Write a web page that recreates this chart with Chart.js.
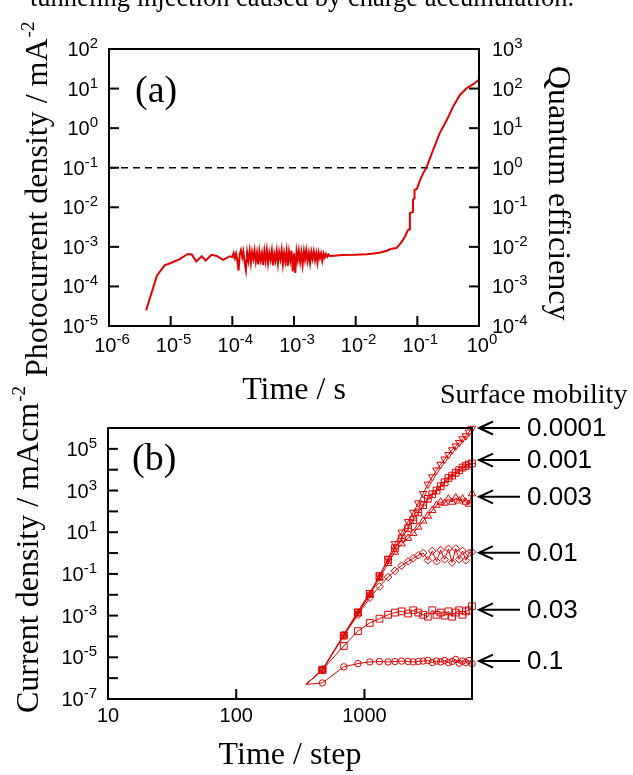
<!DOCTYPE html>
<html>
<head>
<meta charset="utf-8">
<script src="https://cdn.jsdelivr.net/npm/chart.js@4.4.0/dist/chart.umd.min.js"></script>
<style>
  body { margin: 0; background: #fff; width: 633px; height: 775px; overflow: hidden; position: relative; }
  canvas { position: absolute; left: 0; }
  #chartA { top: 0; }
  #chartB { top: 370px; }
</style>
</head>
<body>
<canvas id="chartA" width="633" height="410"></canvas>
<canvas id="chartB" width="633" height="405"></canvas>
<script>
// ---------- panel (a): photocurrent transient ----------
const timeA = [
  4.0e-6, 6.0e-6, 8.0e-6, 1.0e-5, 1.4e-5, 1.9e-5, 2.2e-5, 2.6e-5, 3.2e-5, 3.7e-5, 4.6e-5, 5.6e-5, 7.1e-5, 9.1e-5,
  1.00e-4, 1.05e-4, 1.10e-4, 1.15e-4, 1.20e-4, 1.26e-4, 1.32e-4, 1.38e-4, 1.45e-4, 1.51e-4,
  1.58e-4, 1.66e-4, 1.74e-4, 1.82e-4, 1.91e-4, 2.00e-4, 2.09e-4, 2.19e-4, 2.29e-4, 2.40e-4,
  2.51e-4, 2.63e-4, 2.75e-4, 2.88e-4, 3.02e-4, 3.16e-4, 3.31e-4, 3.47e-4, 3.63e-4, 3.80e-4,
  3.98e-4, 4.17e-4, 4.37e-4, 4.57e-4, 4.79e-4, 5.01e-4, 5.25e-4, 5.50e-4, 5.75e-4, 6.03e-4,
  6.31e-4, 6.61e-4, 6.92e-4, 7.24e-4, 7.59e-4, 7.94e-4, 8.32e-4, 8.71e-4, 9.12e-4, 9.55e-4,
  1.00e-3, 1.05e-3, 1.10e-3, 1.15e-3, 1.20e-3, 1.26e-3, 1.32e-3, 1.38e-3, 1.45e-3, 1.51e-3,
  1.58e-3, 1.66e-3, 1.74e-3, 1.82e-3, 1.91e-3, 2.00e-3, 2.09e-3, 2.19e-3, 2.29e-3, 2.40e-3,
  2.51e-3, 2.63e-3, 2.75e-3, 2.88e-3, 3.02e-3, 3.16e-3, 3.31e-3, 3.47e-3, 3.63e-3, 3.80e-3,
  4.5e-3, 6.0e-3, 1.0e-2, 1.5e-2, 2.0e-2, 2.5e-2, 3.2e-2, 3.8e-2, 4.6e-2, 5.5e-2, 6.3e-2, 7.0e-2,
  0.0748, 0.0757, 0.0848, 0.0852, 0.0895, 0.0900, 0.098, 0.110, 0.124, 0.141,
  0.18, 0.23, 0.30, 0.38, 0.49, 0.63, 0.81, 1.0
];
const currentA = [
  2.5e-5, 1.9e-4, 3.4e-4, 3.9e-4, 4.9e-4, 6.6e-4, 6.4e-4, 4.3e-4, 5.8e-4, 4.5e-4, 6.3e-4, 5.9e-4, 4.7e-4, 5.8e-4,
  5.5e-4, 7.0e-4, 5.2e-4, 6.8e-4, 4.8e-4, 2.5e-4, 6.5e-4, 8.3e-4, 5.5e-4, 7.6e-4,
  4.2e-4, 2.6e-4, 7.2e-4, 4.5e-4, 7.9e-4, 4.0e-4, 7.4e-4, 5.0e-4, 8.1e-4, 4.3e-4,
  7.0e-4, 3.6e-4, 7.7e-4, 4.6e-4, 6.9e-4, 3.5e-4, 7.8e-4, 4.4e-4, 8.2e-4, 3.9e-4,
  7.1e-4, 4.8e-4, 8.0e-4, 3.4e-4, 6.6e-4, 4.5e-4, 7.9e-4, 3.8e-4, 7.3e-4, 4.9e-4,
  8.3e-4, 3.7e-4, 7.0e-4, 4.3e-4, 7.8e-4, 3.3e-4, 7.5e-4, 4.6e-4, 8.0e-4, 2.4e-4,
  6.9e-4, 2.2e-4, 7.6e-4, 4.7e-4, 7.9e-4, 4.2e-4, 7.2e-4, 3.6e-4, 7.7e-4, 4.8e-4,
  8.1e-4, 4.4e-4, 7.0e-4, 3.9e-4, 7.4e-4, 5.0e-4, 7.6e-4, 4.6e-4, 6.9e-4, 4.0e-4,
  7.2e-4, 5.3e-4, 6.9e-4, 4.4e-4, 6.8e-4, 5.4e-4, 6.6e-4, 5.6e-4, 6.4e-4, 5.9e-4,
  6.0e-4, 6.2e-4, 6.3e-4, 6.5e-4, 6.8e-4, 7.2e-4, 8.0e-4, 9.0e-4, 9.3e-4, 1.3e-3, 1.8e-3, 2.6e-3,
  2.8e-3, 7.1e-3, 7.6e-3, 1.55e-2, 1.7e-2, 2.75e-2, 2.9e-2, 4.7e-2, 7.2e-2, 0.102,
  0.28, 0.74, 1.6, 3.5, 6.9, 10.2, 12.9, 16.6
];
const limitTime = [1e-6, 1];
const limitCurrent = [0.1, 0.1];

const tickTimeA = [1e-6, 1e-5, 1e-4, 1e-3, 1e-2, 1e-1, 1];
const tickTimeExpA = ['-6', '-5', '-4', '-3', '-2', '-1', '0'];
const tickCurA = [1e2, 1e1, 1e0, 1e-1, 1e-2, 1e-3, 1e-4, 1e-5];
const tickCurExpA = ['2', '1', '0', '-1', '-2', '-3', '-4', '-5'];
const tickQeA = [1e3, 1e2, 1e1, 1e0, 1e-1, 1e-2, 1e-3, 1e-4];
const tickQeExpA = ['3', '2', '1', '0', '-1', '-2', '-3', '-4'];

// ---------- panel (b): simulated current vs surface mobility ----------
const stepB = [350, 470, 690, 890, 1100, 1310, 1530, 1730, 1950, 2190, 2400, 2630, 2870,
  3120, 3380, 3650, 3930, 4220, 4520, 4830, 5150, 5480, 5820, 6170, 6530, 6900];
const curMu00001 = [5.0e-7, 2.5e-6, 1.26e-4, 1.6e-3, 0.0126, 0.079, 0.56, 2.8, 10, 32, 89, 250, 710,
  2000, 4500, 9500, 1.8e4, 3.2e4, 5.2e4, 8.9e4, 1.35e5, 2.0e5, 3.0e5, 4.2e5, 6.3e5, 9.5e5];
const curMu0001 = [5.0e-7, 2.5e-6, 1.1e-4, 1.4e-3, 0.011, 0.079, 0.47, 1.7, 5.1, 15.5, 38, 89, 200,
  400, 660, 1000, 1600, 2500, 4000, 5200, 7100, 9500, 1.26e4, 1.5e4, 1.8e4, 2.0e4];
const curMu0003 = [5.0e-7, 2.5e-6, 1.1e-4, 1.26e-3, 0.010, 0.063, 0.32, 1.12, 2.8, 5.2, 8.9, 17.8, 35,
  60, 112, 200, 280, 250, 400, 280, 450, 320, 400, 280, 224, 710];
const curMu001 = [5.0e-7, 2.5e-6, 1.1e-4, 1.1e-3, 7.1e-3, 0.025, 0.071, 0.14, 0.25, 0.40, 0.56, 0.79, 1.0,
  0.45, 1.26, 0.40, 1.4, 0.50, 1.6, 0.35, 1.66, 0.50, 1.26, 0.45, 1.0, 1.12];
const curMu003 = [5.0e-7, 2.5e-6, 3.5e-5, 1.8e-4, 4.5e-4, 7.1e-4, 1.1e-3, 1.4e-3, 1.6e-3, 1.26e-3, 1.8e-3, 1.4e-3, 1.1e-3,
  8.9e-4, 1.8e-3, 1.1e-3, 1.4e-3, 1.0e-3, 1.6e-3, 8.9e-4, 1.4e-3, 1.8e-3, 1.1e-3, 1.6e-3, 1.8e-3, 2.8e-3];
const curMu01 = [5.0e-7, 5.9e-7, 3.5e-6, 5.0e-6, 6.0e-6, 6.3e-6, 6.0e-6, 6.3e-6, 6.6e-6, 6.3e-6, 6.0e-6, 6.3e-6, 6.6e-6,
  7.1e-6, 5.6e-6, 6.6e-6, 6.0e-6, 7.1e-6, 5.6e-6, 6.3e-6, 7.9e-6, 5.2e-6, 6.6e-6, 5.6e-6, 7.1e-6, 5.0e-6];

const mobilityLabels = ['0.0001', '0.001', '0.003', '0.01', '0.03', '0.1'];
const arrowLevels = [1.0e6, 2.9e4, 5.0e2, 1.05, 1.9e-3, 6.6e-6];

const tickStepB = [10, 100, 1000];
const tickStepLabelB = ['10', '100', '1000'];
const tickCurB = [1e5, 1e4, 1e3, 1e2, 1e1, 1e0, 1e-1, 1e-2, 1e-3, 1e-4, 1e-5, 1e-6, 1e-7];
const tickCurExpB = ['5', '', '3', '', '1', '', '-1', '', '-3', '', '-5', '', '-7'];

// ---------- drawing helpers ----------
const RED = '#e00000';
const SANS = '"Liberation Sans", Arial, sans-serif';
const SERIF = '"Liberation Serif", "Times New Roman", serif';

// "10" with a superscript exponent, y is the vertical middle of "10"
function drawPow(ctx, exp, x, y, align) {
  const size = 20, sup = 15;
  ctx.textAlign = 'left';
  ctx.textBaseline = 'alphabetic';
  ctx.font = size + 'px ' + SANS;
  const wb = ctx.measureText('10').width;
  ctx.font = sup + 'px ' + SANS;
  const ws = ctx.measureText(exp).width;
  const total = wb + ws;
  let x0 = x;
  if (align === 'right') x0 = x - total;
  if (align === 'center') x0 = x - total / 2;
  const by = y + 7;
  ctx.font = size + 'px ' + SANS;
  ctx.fillText('10', x0, by);
  ctx.font = sup + 'px ' + SANS;
  ctx.fillText(exp, x0 + wb, by - 8);
}

// rotated axis title, optional superscript at the end
function drawTitle(ctx, text, sup, x, y, angle) {
  ctx.save();
  ctx.translate(x, y);
  ctx.rotate(angle);
  ctx.textAlign = 'left';
  ctx.textBaseline = 'alphabetic';
  ctx.font = '32px ' + SERIF;
  ctx.fillText(text, 0, 0);
  if (sup) {
    const w = ctx.measureText(text).width;
    ctx.font = '19px ' + SERIF;
    ctx.fillText(sup, w + 1, -13);
  }
  ctx.restore();
}

function tickY(ctx, yPix, xFrom, len) {
  ctx.beginPath();
  ctx.moveTo(xFrom, yPix);
  ctx.lineTo(xFrom + len, yPix);
  ctx.stroke();
}

function tickX(ctx, xPix, yFrom, len) {
  ctx.beginPath();
  ctx.moveTo(xPix, yFrom);
  ctx.lineTo(xPix, yFrom + len);
  ctx.stroke();
}

const panelA = {
  id: 'panelA',
  afterDraw(chart) {
    const ctx = chart.ctx;
    const { left, right, top, bottom } = chart.chartArea;
    const sx = chart.scales.x, sy = chart.scales.y, sy2 = chart.scales.y2;
    ctx.save();
    ctx.strokeStyle = '#000';
    ctx.fillStyle = '#000';
    ctx.lineWidth = 2;
    ctx.strokeRect(left, top, right - left, bottom - top);

    // ticks + labels
    tickCurA.forEach((v, i) => {
      const y = sy.getPixelForValue(v);
      if (i > 0 && i < tickCurA.length - 1) {
        tickY(ctx, y, left, 10);
      }
      drawPow(ctx, tickCurExpA[i], left - 11, y, 'right');
    });
    tickQeA.forEach((v, i) => {
      const y = sy2.getPixelForValue(v);
      if (i > 0 && i < tickQeA.length - 1) {
        tickY(ctx, y, right, -10);
      }
      drawPow(ctx, tickQeExpA[i], right + 13, y, 'left');
    });
    tickTimeA.forEach((v, i) => {
      const x = sx.getPixelForValue(v);
      if (i > 0 && i < tickTimeA.length - 1) {
        tickX(ctx, x, bottom, -10);
      }
      drawPow(ctx, tickTimeExpA[i], x + 3, bottom + 19, 'center');
    });

    // titles
    ctx.textAlign = 'center';
    ctx.textBaseline = 'alphabetic';
    ctx.font = '32px ' + SERIF;
    ctx.fillText('Time / s', (left + right) / 2, 399);
    drawTitle(ctx, 'Photocurrent density / mA', '-2', 47, 377, -Math.PI / 2);
    drawTitle(ctx, 'Quantum efficiency', null, 549, 66, Math.PI / 2);

    ctx.textAlign = 'left';
    ctx.font = '38px ' + SERIF;
    ctx.fillText('(a)', 135, 102);

    // caption line cut off at the top of the page
    ctx.font = '26.5px ' + SERIF;
    ctx.fillText('tunneling injection caused by charge accumulation.', 30, 6);
    ctx.restore();
  }
};

const panelB = {
  id: 'panelB',
  afterDraw(chart) {
    const ctx = chart.ctx;
    const { left, right, top, bottom } = chart.chartArea;
    const sx = chart.scales.x, sy = chart.scales.y;
    ctx.save();
    ctx.strokeStyle = '#000';
    ctx.fillStyle = '#000';
    ctx.lineWidth = 2;
    ctx.strokeRect(left, top, right - left, bottom - top);

    tickCurB.forEach((v, i) => {
      const y = sy.getPixelForValue(v);
      if (v > 1e-7) tickY(ctx, y, left, 10);
      if (tickCurExpB[i]) drawPow(ctx, tickCurExpB[i], left - 11, y, 'right');
    });
    ctx.textAlign = 'center';
    ctx.textBaseline = 'middle';
    ctx.font = '20px ' + SANS;
    tickStepB.forEach((v, i) => {
      const x = sx.getPixelForValue(v);
      if (v > 10) tickX(ctx, x, bottom, -10);
      ctx.fillText(tickStepLabelB[i], x, bottom + 17);
    });

    ctx.textBaseline = 'alphabetic';
    ctx.font = '32px ' + SERIF;
    ctx.fillText('Time / step', (left + right) / 2, 394);
    drawTitle(ctx, 'Current density / mAcm', '-2', 38, 343, -Math.PI / 2);

    ctx.textAlign = 'left';
    ctx.font = '38px ' + SERIF;
    ctx.fillText('(b)', 132, 100);

    ctx.font = '28px ' + SERIF;
    ctx.fillText('Surface mobility', 440, 33);

    // arrows pointing at each curve with its mobility
    ctx.lineWidth = 2;
    ctx.font = '26px ' + SANS;
    ctx.textBaseline = 'middle';
    arrowLevels.forEach((v, i) => {
      const y = sy.getPixelForValue(v);
      const tip = right + 7;
      ctx.beginPath();
      ctx.moveTo(tip + 41, y);
      ctx.lineTo(tip, y);
      ctx.moveTo(tip + 14, y - 6.5);
      ctx.lineTo(tip, y);
      ctx.lineTo(tip + 14, y + 6.5);
      ctx.stroke();
      ctx.fillText(mobilityLabels[i], right + 55, y + 1);
    });
    ctx.restore();
  }
};

const baseOpts = {
  responsive: false,
  animation: false,
  devicePixelRatio: 1,
  events: [],
  plugins: { legend: { display: false }, tooltip: { enabled: false } }
};

new Chart(document.getElementById('chartA'), {
  type: 'line',
  data: {
    datasets: [
      {
        data: timeA.map((t, i) => ({ x: t, y: currentA[i] })),
        borderColor: RED, borderWidth: 2, pointRadius: 0, tension: 0
      },
      {
        data: limitTime.map((t, i) => ({ x: t, y: limitCurrent[i] })),
        borderColor: '#000', borderWidth: 1.6, borderDash: [7, 5], pointRadius: 0
      }
    ]
  },
  options: {
    ...baseOpts,
    layout: { padding: { left: 109, right: 154, top: 49, bottom: 84 } },
    scales: {
      x: { type: 'logarithmic', min: 1e-6, max: 1, display: false },
      y: { type: 'logarithmic', min: 1e-5, max: 1e2, display: false },
      y2: { type: 'logarithmic', min: 1e-4, max: 1e3, display: false, position: 'right' }
    }
  },
  plugins: [panelA]
});

function series(values, style, radius, rotation, showLine) {
  return {
    data: stepB.map((s, i) => ({ x: s, y: values[i] })),
    borderColor: RED,
    borderWidth: 1,
    showLine: showLine,
    pointStyle: style,
    pointRotation: rotation,
    pointRadius: ctx => ctx.dataIndex === 0 ? 0 : radius,
    pointBorderColor: RED,
    pointBackgroundColor: 'rgba(255,255,255,0)',
    pointBorderWidth: 1,
    tension: 0,
    clip: false
  };
}

new Chart(document.getElementById('chartB'), {
  type: 'line',
  data: {
    datasets: [
      series(curMu00001, 'triangle', 4.3, 180, true),
      series(curMu0001, 'rect', 4.8, 0, true),
      series(curMu0001, 'cross', 3.4, 0, false),
      series(curMu0003, 'triangle', 4.3, 0, true),
      series(curMu001, 'rectRot', 3.8, 0, true),
      series(curMu003, 'rect', 4.8, 0, true),
      series(curMu01, 'circle', 3.2, 0, true)
    ]
  },
  options: {
    ...baseOpts,
    layout: { padding: { left: 108, right: 161, top: 58, bottom: 76 } },
    scales: {
      x: { type: 'logarithmic', min: 10, max: 6900, display: false },
      y: { type: 'logarithmic', min: 1e-7, max: 1e6, display: false }
    }
  },
  plugins: [panelB]
});
</script>
</body>
</html>
